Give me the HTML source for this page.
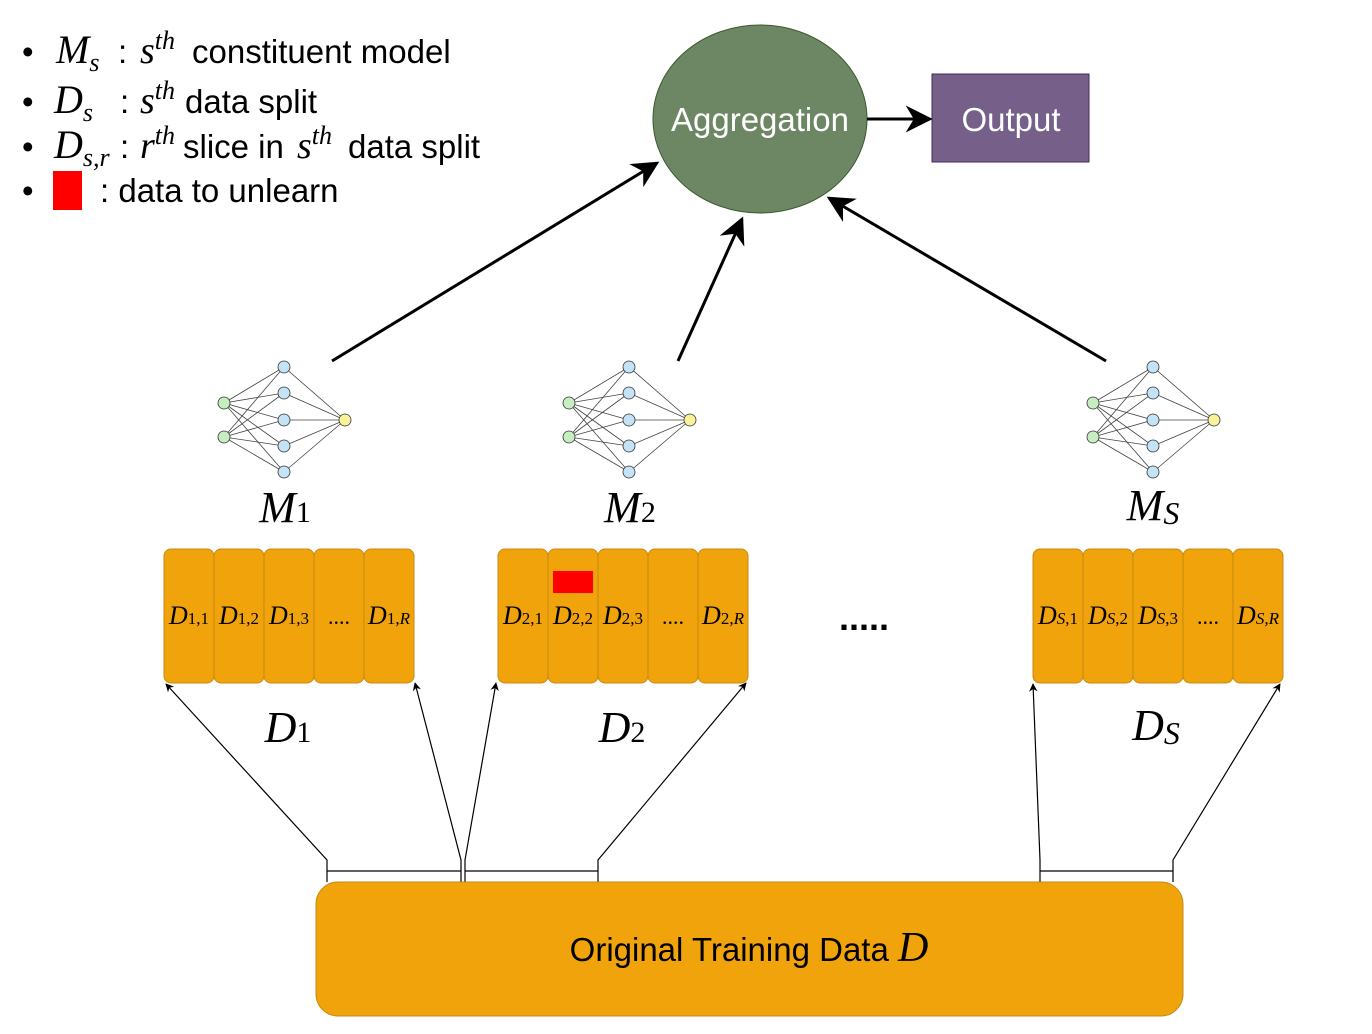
<!DOCTYPE html>
<html><head><meta charset="utf-8"><style>
html,body{margin:0;padding:0;background:#fff;}
svg{display:block}
.s{font-family:"Liberation Sans",sans-serif}
.m{font-family:"Liberation Serif",serif;font-style:italic}
</style></head><body>
<svg width="1372" height="1034" viewBox="0 0 1372 1034" xmlns="http://www.w3.org/2000/svg">
<defs>
<marker id="a" viewBox="0 0 10 10" refX="9" refY="5" markerWidth="7" markerHeight="7" orient="auto"><path d="M0,0 L10,5 L0,10 L3,5z" fill="#000"/></marker>
<marker id="b" viewBox="0 0 10 10" refX="9" refY="5" markerWidth="9" markerHeight="9" orient="auto"><path d="M0,0 L10,5 L0,10 L3,5z" fill="#000"/></marker>
<g id="nn">
<g stroke="#444" stroke-width="0.8">
<line x1="0" y1="0" x2="60" y2="-36"/><line x1="0" y1="0" x2="60" y2="-10"/><line x1="0" y1="0" x2="60" y2="17"/><line x1="0" y1="0" x2="60" y2="43"/><line x1="0" y1="0" x2="60" y2="69"/>
<line x1="0" y1="34" x2="60" y2="-36"/><line x1="0" y1="34" x2="60" y2="-10"/><line x1="0" y1="34" x2="60" y2="17"/><line x1="0" y1="34" x2="60" y2="43"/><line x1="0" y1="34" x2="60" y2="69"/>
<line x1="60" y1="-36" x2="121" y2="17"/><line x1="60" y1="-10" x2="121" y2="17"/><line x1="60" y1="17" x2="121" y2="17"/><line x1="60" y1="43" x2="121" y2="17"/><line x1="60" y1="69" x2="121" y2="17"/>
</g>
<g stroke="#333" stroke-width="0.8">
<circle cx="0" cy="0" r="6" fill="#c6eec0"/><circle cx="0" cy="34" r="6" fill="#c6eec0"/>
<circle cx="60" cy="-36" r="6" fill="#c5e3f6"/><circle cx="60" cy="-10" r="6" fill="#c5e3f6"/><circle cx="60" cy="17" r="6" fill="#c5e3f6"/><circle cx="60" cy="43" r="6" fill="#c5e3f6"/><circle cx="60" cy="69" r="6" fill="#c5e3f6"/>
<circle cx="121" cy="17" r="6" fill="#f8f29a"/>
</g>
</g>
<g id="sl"><g fill="#f0a30a" stroke="#c88a10" stroke-width="1">
<rect x="0" y="0" width="50" height="134" rx="7"/><rect x="50" y="0" width="50" height="134" rx="7"/><rect x="100" y="0" width="50" height="134" rx="7"/><rect x="150" y="0" width="50" height="134" rx="7"/><rect x="200" y="0" width="50" height="134" rx="7"/>
</g></g>
</defs>

<!-- legend -->
<g font-size="33" class="s">
<text x="22" y="63">•</text><text x="22" y="113">•</text><text x="22" y="158">•</text><text x="22" y="202">•</text>
<text y="63"><tspan x="56" class="m" font-size="40">M</tspan><tspan class="m" font-size="26" dy="8">s</tspan><tspan x="118" dy="-8">:</tspan><tspan x="140" class="m" font-size="38">s</tspan><tspan class="m" font-size="26" dy="-14">th</tspan><tspan x="192" dy="14">constituent model</tspan></text>
<text y="113"><tspan x="54" class="m" font-size="40">D</tspan><tspan class="m" font-size="26" dy="8">s</tspan><tspan x="120" dy="-8">:</tspan><tspan x="140" class="m" font-size="38">s</tspan><tspan class="m" font-size="26" dy="-14">th</tspan><tspan x="185" dy="14">data split</tspan></text>
<text y="158"><tspan x="54" class="m" font-size="40">D</tspan><tspan class="m" font-size="26" dy="8">s,r</tspan><tspan x="120" dy="-8">:</tspan><tspan x="140" class="m" font-size="38">r</tspan><tspan class="m" font-size="26" dy="-14">th</tspan><tspan x="183" dy="14">slice in</tspan><tspan x="297" class="m" font-size="38">s</tspan><tspan class="m" font-size="26" dy="-14">th</tspan><tspan x="348" dy="14">data split</tspan></text>
<text x="100" y="202">: data to unlearn</text>
</g>
<rect x="53" y="171" width="29" height="39" fill="#ff0000"/>

<!-- aggregation -->
<ellipse cx="760" cy="119" rx="107" ry="94" fill="#6d8764" stroke="#3a5a30" stroke-width="1"/>
<text x="760" y="131" text-anchor="middle" class="s" font-size="33" fill="#fff">Aggregation</text>
<rect x="932" y="74" width="157" height="88" fill="#76608a" stroke="#432d57" stroke-width="1"/>
<text x="1011" y="131" text-anchor="middle" class="s" font-size="33" fill="#fff">Output</text>
<line x1="867" y1="119" x2="930" y2="119" stroke="#000" stroke-width="3" marker-end="url(#b)"/>

<line x1="332" y1="361" x2="657" y2="163" stroke="#000" stroke-width="3" marker-end="url(#b)"/>
<line x1="678" y1="361" x2="742" y2="219" stroke="#000" stroke-width="3" marker-end="url(#b)"/>
<line x1="1106" y1="361" x2="829" y2="198" stroke="#000" stroke-width="3" marker-end="url(#b)"/>

<use href="#nn" x="224" y="403"/>
<use href="#nn" x="569" y="403"/>
<use href="#nn" x="1093" y="403"/>

<g class="m" font-size="44" text-anchor="middle">
<text x="285" y="522">M<tspan font-size="30" font-style="normal">1</tspan></text>
<text x="630" y="522">M<tspan font-size="30" font-style="normal">2</tspan></text>
<text x="1153" y="520">M<tspan font-size="32" dy="4">S</tspan></text>
<text x="288" y="742">D<tspan font-size="30" font-style="normal">1</tspan></text>
<text x="622" y="742">D<tspan font-size="30" font-style="normal">2</tspan></text>
<text x="1156" y="740">D<tspan font-size="32" dy="4">S</tspan></text>
</g>

<use href="#sl" x="164" y="549"/>
<use href="#sl" x="498" y="549"/>
<use href="#sl" x="1033" y="549"/>
<rect x="553" y="571" width="40" height="22" fill="#ff0000"/>

<g class="m" font-size="26" text-anchor="middle">
<text x="189" y="624">D<tspan font-size="17" font-style="normal">1,1</tspan></text>
<text x="239" y="624">D<tspan font-size="17" font-style="normal">1,2</tspan></text>
<text x="289" y="624">D<tspan font-size="17" font-style="normal">1,3</tspan></text>
<text x="339" y="624" font-style="normal" font-size="22">....</text>
<text x="389" y="624">D<tspan font-size="17" font-style="normal">1,</tspan><tspan font-size="17">R</tspan></text>
<text x="523" y="624">D<tspan font-size="17" font-style="normal">2,1</tspan></text>
<text x="573" y="624">D<tspan font-size="17" font-style="normal">2,2</tspan></text>
<text x="623" y="624">D<tspan font-size="17" font-style="normal">2,3</tspan></text>
<text x="673" y="624" font-style="normal" font-size="22">....</text>
<text x="723" y="624">D<tspan font-size="17" font-style="normal">2,</tspan><tspan font-size="17">R</tspan></text>
<text x="1058" y="624">D<tspan font-size="17">S</tspan><tspan font-size="17" font-style="normal">,1</tspan></text>
<text x="1108" y="624">D<tspan font-size="17">S</tspan><tspan font-size="17" font-style="normal">,2</tspan></text>
<text x="1158" y="624">D<tspan font-size="17">S</tspan><tspan font-size="17" font-style="normal">,3</tspan></text>
<text x="1208" y="624" font-style="normal" font-size="22">....</text>
<text x="1258" y="624">D<tspan font-size="17">S,R</tspan></text>
</g>
<text x="864" y="630" text-anchor="middle" class="s" font-size="36" font-weight="bold">.....</text>

<!-- connectors -->
<g stroke="#000" stroke-width="1.2" fill="none">
<path d="M327,882 V860 L166,684" marker-end="url(#a)"/>
<path d="M461,882 V860 L415,683" marker-end="url(#a)"/>
<path d="M465,882 V860 L496,683" marker-end="url(#a)"/>
<path d="M598,882 V860 L746,683" marker-end="url(#a)"/>
<path d="M1040,882 V860 L1033,684" marker-end="url(#a)"/>
<path d="M1173,882 V860 L1280,684" marker-end="url(#a)"/>
<line x1="327" y1="871" x2="461" y2="871"/>
<line x1="465" y1="871" x2="598" y2="871"/>
<line x1="1040" y1="871" x2="1173" y2="871"/>
</g>

<rect x="316" y="882" width="867" height="134" rx="22" fill="#f0a30a" stroke="#c88a10" stroke-width="1"/>
<text x="749" y="961" text-anchor="middle" class="s" font-size="33">Original Training Data <tspan class="m" font-size="42">D</tspan></text>
</svg>
</body></html>
